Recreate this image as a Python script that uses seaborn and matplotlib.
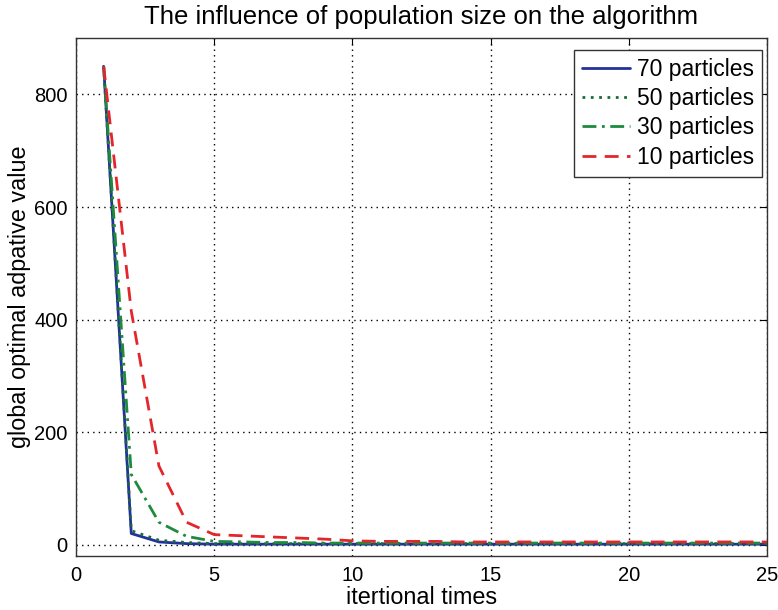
import numpy as np
import pandas as pd
import seaborn as sns
import matplotlib
matplotlib.use("Agg")
import matplotlib.pyplot as plt

iterations = list(range(1, 26))
p70 = [850, 20, 5, 2, 1, 1, 1, 1, 1, 1, 1, 1, 1, 1, 1, 1, 1, 1, 1, 1, 1, 1, 1, 1, 1]
p50 = [850, 25, 8, 4, 2, 2, 2, 2, 2, 2, 2, 2, 2, 2, 2, 2, 2, 2, 2, 2, 2, 2, 2, 2, 2]
p30 = [850, 125, 40, 15, 6, 5, 4, 4, 3, 3, 3, 3, 3, 3, 3, 3, 3, 3, 3, 3, 3, 3, 3, 3, 3]
p10 = [850, 415, 140, 40, 18, 16, 14, 12, 10, 7, 6, 6, 6, 5, 5, 5, 5, 5, 5, 5, 5, 5, 5, 5, 5]
labels = ["70 particles", "50 particles", "30 particles", "10 particles"]

df = pd.DataFrame({
    "iter": iterations * 4,
    "value": p70 + p50 + p30 + p10,
    "series": sum([[l] * len(iterations) for l in labels], []),
})

sns.set_style("white")
plt.rcParams["font.family"] = ["Liberation Sans", "DejaVu Sans"]
plt.rcParams["text.color"] = "black"
plt.rcParams["axes.labelcolor"] = "black"
plt.rcParams["xtick.color"] = "black"
plt.rcParams["ytick.color"] = "black"

fig = plt.figure(figsize=(7.78, 6.10), dpi=100)
ax = fig.add_axes([0.0977, 0.0885, 0.888, 0.849])

palette = {"70 particles": "#23319a", "50 particles": "#1a6a3a",
           "30 particles": "#1d8a3e", "10 particles": "#e3262b"}
dashes = {"70 particles": "", "50 particles": (1, 2),
          "30 particles": (5, 2, 1, 2), "10 particles": (5, 3)}

sns.lineplot(data=df, x="iter", y="value", hue="series", style="series",
             palette=palette, dashes=dashes, hue_order=labels, style_order=labels,
             linewidth=2, ax=ax)

ax.set_xlim(0, 25)
ax.set_ylim(-20, 900)
ax.set_xticks([0, 5, 10, 15, 20, 25])
ax.set_yticks([0, 200, 400, 600, 800])
ax.grid(True, color="black", linestyle=(0, (1, 3)), linewidth=1)
ax.tick_params(direction="in", labelsize=14.5, length=5, top=True, right=True)
ax.tick_params(axis="x", pad=7)
ax.tick_params(axis="y", pad=6)
for s in ax.spines.values():
    s.set_color("#333333")
    s.set_linewidth(1)

ax.set_title("The influence of population size on the algorithm", fontsize=18.5, pad=10)
ax.set_xlabel("itertional times", fontsize=16.8, labelpad=1)
ax.set_ylabel("global optimal adpative value", fontsize=16.8, labelpad=2)

leg = ax.legend(loc="upper right", bbox_to_anchor=(762 / 778, 1 - 50 / 610),
                bbox_transform=fig.transFigure, borderaxespad=0,
                fontsize=16.5, frameon=True, fancybox=False,
                handlelength=2.1, handletextpad=0.3, labelspacing=0.27,
                borderpad=0.35)
leg.get_frame().set_edgecolor("#333333")
leg.get_frame().set_linewidth(1)
leg.get_frame().set_alpha(1)

fig.savefig("out.png", dpi=100)
